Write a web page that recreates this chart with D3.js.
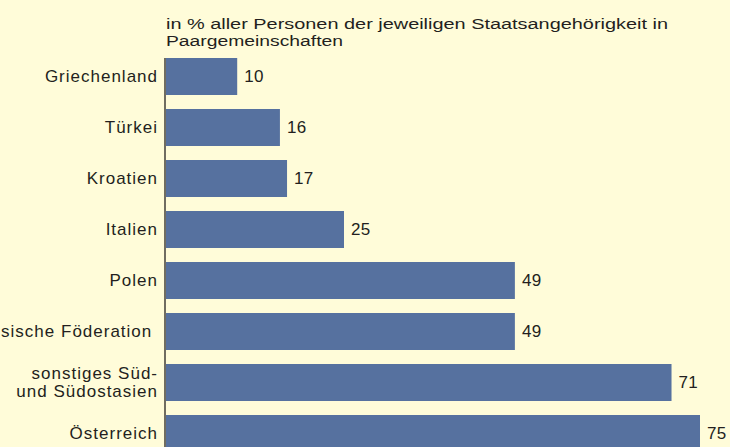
<!DOCTYPE html>
<html lang="de">
	<head>
		<meta charset="utf-8">
		<title>Paargemeinschaften nach Staatsangehörigkeit</title>
		<script type="text/javascript" src="https://cdn.jsdelivr.net/npm/d3@7"></script>
		<style>
			body { margin: 0; background: #fffcd9; }
			text { font-family: "Liberation Sans", Arial, sans-serif; fill: #231f20; }
		</style>
	</head>
	<body>
		<script type="text/javascript">
			//Width and height
			var w = 730;
			var h = 447;

			//Data
			var categories = ["Griechenland", "Türkei", "Kroatien", "Italien", "Polen",
				"Russische Föderation", "sonstiges Süd- und Südostasien", "Österreich"];
			// label lines as printed
			var labelLines = [["Griechenland"], ["Türkei"], ["Kroatien"], ["Italien"], ["Polen"],
				["Russische Föderation\u00a0"], ["sonstiges Süd-", "und Südostasien"], ["Österreich"]];
			var values = [10, 16, 17, 25, 49, 49, 71, 75];
			var titleLines = ["in % aller Personen der jeweiligen Staatsangehörigkeit in", "Paargemeinschaften"];
			// printed width of each title line (wide typeface in the original)
			var titleWidths = [502, 177];

			var fontSize = 17;
			var spacing = 1;

			var xScale = d3.scaleLinear()
				.domain([0, 75])
				.range([166, 700]);

			var yScale = d3.scaleBand()
				.domain(categories)
				.range([58, 452])
				.paddingInner(14 / 51)
				.paddingOuter(0);

			var svg = d3.select("body")
				.append("svg")
				.attr("width", w)
				.attr("height", h);

			svg.append("rect")
				.attr("width", w)
				.attr("height", h)
				.attr("fill", "#fffcd9");

			// Title
			svg.selectAll("text.title")
				.data(titleLines)
				.enter()
				.append("text")
				.attr("class", "title")
				.attr("x", 166)
				.attr("y", function(d, i) { return 28.5 + i * 17.8; })
				.attr("textLength", function(d, i) { return titleWidths[i]; })
				.attr("lengthAdjust", "spacingAndGlyphs")
				.style("font-size", "15.5px")
				.text(function(d) { return d; });

			// Bars
			svg.selectAll("rect.bar")
				.data(values)
				.enter()
				.append("rect")
				.attr("class", "bar")
				.attr("x", xScale(0))
				.attr("y", function(d, i) { return yScale(categories[i]); })
				.attr("width", function(d) { return xScale(d) - xScale(0); })
				.attr("height", yScale.bandwidth())
				.attr("fill", "#56719f");

			// Value labels
			svg.selectAll("text.value")
				.data(values)
				.enter()
				.append("text")
				.attr("class", "value")
				.attr("x", function(d) { return xScale(d) + 7; })
				.attr("y", function(d, i) { return yScale(categories[i]) + yScale.bandwidth() / 2 + 5.5; })
				.style("font-size", fontSize + "px")
				.style("letter-spacing", "0.3px")
				.text(function(d) { return d; });

			// Category labels
			var labels = svg.selectAll("text.cat")
				.data(labelLines)
				.enter()
				.append("text")
				.attr("class", "cat")
				.attr("text-anchor", "end")
				.style("font-size", fontSize + "px")
				.style("letter-spacing", spacing + "px")
				.attr("y", function(d, i) {
					var mid = yScale(categories[i]) + yScale.bandwidth() / 2 + 5.5;
					return mid - (d.length - 1) * 17.5 / 2;
				});

			labels.selectAll("tspan")
				.data(function(d) { return d; })
				.enter()
				.append("tspan")
				.attr("x", 158)
				.attr("dy", function(d, i) { return i === 0 ? 0 : 17.5; })
				.text(function(d) { return d; });

			// Axis line
			svg.append("line")
				.attr("x1", 165)
				.attr("x2", 165)
				.attr("y1", 58)
				.attr("y2", h)
				.attr("stroke", "#231f20")
				.attr("stroke-width", 1.3);
		</script>
	</body>
</html>
